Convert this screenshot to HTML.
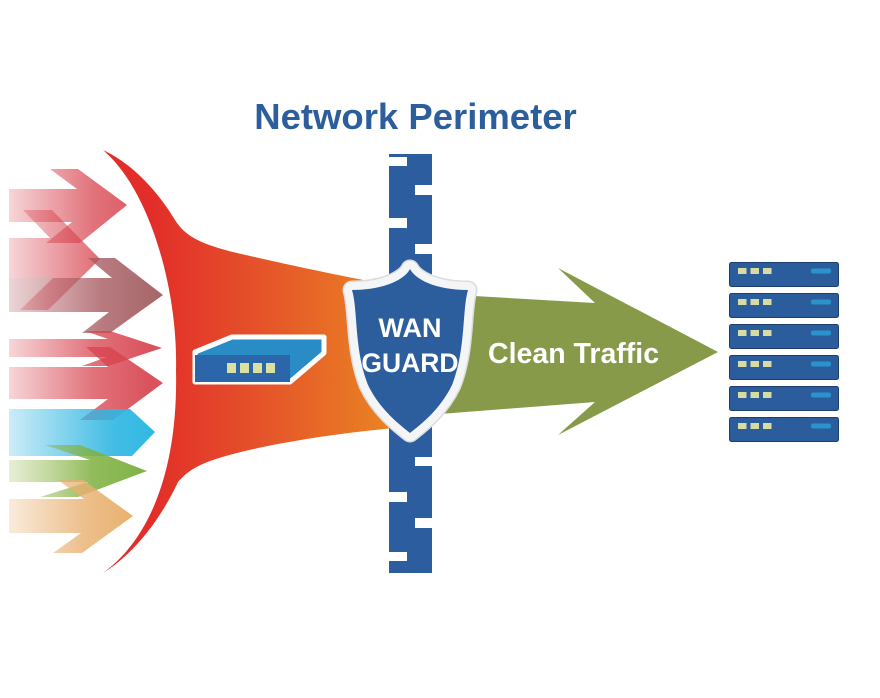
<!DOCTYPE html>
<html>
<head>
<meta charset="utf-8">
<style>
html,body{margin:0;padding:0;background:#ffffff;}
body{width:880px;height:698px;overflow:hidden;}
svg{display:block;}
</style>
</head>
<body>
<svg width="880" height="698" viewBox="0 0 880 698" xmlns="http://www.w3.org/2000/svg">
  <defs>
    <linearGradient id="funnel" gradientUnits="userSpaceOnUse" x1="150" y1="0" x2="395" y2="0">
      <stop offset="0" stop-color="#e22d29"/>
      <stop offset="0.45" stop-color="#e5532a"/>
      <stop offset="1" stop-color="#ea8522"/>
    </linearGradient>
    <linearGradient id="gRed" gradientUnits="userSpaceOnUse" x1="9" y1="0" x2="150" y2="0">
      <stop offset="0" stop-color="#d8434e" stop-opacity="0.22"/>
      <stop offset="0.6" stop-color="#d8434e" stop-opacity="0.75"/>
      <stop offset="1" stop-color="#d6434e" stop-opacity="0.92"/>
    </linearGradient>
    <linearGradient id="gBrown" gradientUnits="userSpaceOnUse" x1="9" y1="0" x2="163" y2="0">
      <stop offset="0" stop-color="#b0565e" stop-opacity="0.25"/>
      <stop offset="0.6" stop-color="#a65a60" stop-opacity="0.8"/>
      <stop offset="1" stop-color="#a05c60" stop-opacity="0.95"/>
    </linearGradient>
    <linearGradient id="gBlue" gradientUnits="userSpaceOnUse" x1="9" y1="0" x2="155" y2="0">
      <stop offset="0" stop-color="#30b6e2" stop-opacity="0.25"/>
      <stop offset="0.7" stop-color="#30b6e2" stop-opacity="0.9"/>
      <stop offset="1" stop-color="#2fb8e2" stop-opacity="1"/>
    </linearGradient>
    <linearGradient id="gGreen" gradientUnits="userSpaceOnUse" x1="9" y1="0" x2="147" y2="0">
      <stop offset="0" stop-color="#9cbc58" stop-opacity="0.25"/>
      <stop offset="0.6" stop-color="#7fb040" stop-opacity="0.85"/>
      <stop offset="1" stop-color="#78ae3c" stop-opacity="0.95"/>
    </linearGradient>
    <linearGradient id="gOrange" gradientUnits="userSpaceOnUse" x1="9" y1="0" x2="133" y2="0">
      <stop offset="0" stop-color="#e8b070" stop-opacity="0.25"/>
      <stop offset="0.6" stop-color="#e8b070" stop-opacity="0.8"/>
      <stop offset="1" stop-color="#e8ac66" stop-opacity="0.95"/>
    </linearGradient>
  </defs>

  <!-- Title -->
  <text x="415.5" y="129" text-anchor="middle" font-family="'Liberation Sans', Arial, sans-serif" font-weight="bold" font-size="36.5" fill="#2b5e9b">Network Perimeter</text>

  <!-- Funnel -->
  <path d="M103,150 C135,165 160,195 175,220 C185,236 200,244 237,253 C280,263 340,276 395,286 L395,428 C340,433 280,442 237,453 C205,461 190,468 178,482 C165,510 140,550 103,573 C155,535 178,460 176,370 C178,290 150,190 103,150 Z" fill="url(#funnel)"/>

  <!-- Incoming arrows -->
  <polygon points="9,189 77,189 50,169 78,169 127,205 80,243 46,243 72,222 9,222" fill="url(#gRed)"/>
  <polygon points="9,238 50,238 23,210 52,210 100,259 48,310 20,310 53,278 9,278" fill="url(#gRed)"/>
  <polygon points="9,278 112,278 88,258 115,258 163,295 110,333 82,333 109,312 9,312" fill="url(#gBrown)"/>
  <polygon points="9,339 108,339 85,331 110,331 162,348 108,366 82,366 107,357 9,357" fill="url(#gRed)"/>
  <polygon points="9,367 108,367 86,347 110,347 163,383 113,420 80,420 108,399 9,399" fill="url(#gRed)"/>
  <polygon points="9,409 130,409 155,432 132,456 9,456" fill="url(#gBlue)"/>
  <polygon points="9,460 90,460 45,445 80,445 147,471 78,497 40,497 88,482 9,482" fill="url(#gGreen)"/>
  <polygon points="9,499 84,499 58,480 83,480 133,516 82,553 53,553 81,533 9,533" fill="url(#gOrange)"/>

  <!-- Switch device -->
  <polygon points="195,352 232,337 324,337 324,353 290,382 195,382" fill="#2a8cc4" stroke="#ffffff" stroke-width="5" stroke-linejoin="round"/>
  <rect x="195" y="355" width="95" height="27" fill="#2b66ab"/>
  <rect x="227" y="363" width="9" height="10" fill="#d9e0a0"/>
  <rect x="240" y="363" width="9" height="10" fill="#d9e0a0"/>
  <rect x="253" y="363" width="9" height="10" fill="#d9e0a0"/>
  <rect x="266" y="363" width="9" height="10" fill="#d9e0a0"/>

  <!-- Green clean traffic arrow -->
  <polygon points="440,294 595,303 558,268 718,352 558,435 595,402 440,414" fill="#879a49"/>
  <text x="488" y="363" font-family="'Liberation Sans', Arial, sans-serif" font-weight="bold" font-size="28.5" fill="#ffffff">Clean Traffic</text>

  <!-- Wall -->
  <rect x="389" y="154" width="43" height="419" fill="#2c5d9e"/>
  <rect x="389" y="157" width="18" height="9" fill="#ffffff"/>
  <rect x="389" y="218" width="18" height="10" fill="#ffffff"/>
  <rect x="389" y="492" width="18" height="10" fill="#ffffff"/>
  <rect x="389" y="552" width="18" height="9" fill="#ffffff"/>
  <rect x="415" y="185" width="17" height="10" fill="#ffffff"/>
  <rect x="415" y="244" width="17" height="10" fill="#ffffff"/>
  <rect x="415" y="457" width="17" height="9" fill="#ffffff"/>
  <rect x="415" y="518" width="17" height="10" fill="#ffffff"/>

  <!-- Shield -->
  <path d="M410,269 C405,279 385,290 352,290 C358,310 354,350 368,385 C380,410 400,425 410,433 C420,425 440,410 452,385 C466,350 462,310 468,290 C435,290 415,279 410,269 Z" fill="none" stroke="#dcdcdc" stroke-width="19" stroke-linejoin="round"/>
  <path d="M410,269 C405,279 385,290 352,290 C358,310 354,350 368,385 C380,410 400,425 410,433 C420,425 440,410 452,385 C466,350 462,310 468,290 C435,290 415,279 410,269 Z" fill="#2c5e9e" stroke="#f4f5f7" stroke-width="16" stroke-linejoin="round"/>
  <path d="M410,269 C405,279 385,290 352,290 C358,310 354,350 368,385 C380,410 400,425 410,433 C420,425 440,410 452,385 C466,350 462,310 468,290 C435,290 415,279 410,269 Z" fill="#2c5e9e"/>
  <text x="410" y="337" text-anchor="middle" font-family="'Liberation Sans', Arial, sans-serif" font-weight="bold" font-size="27" fill="#ffffff">WAN</text>
  <text x="410" y="372" text-anchor="middle" font-family="'Liberation Sans', Arial, sans-serif" font-weight="bold" font-size="26.5" fill="#ffffff">GUARD</text>

  <!-- Servers -->
  <g>
    <rect x="729.5" y="262.5" width="109" height="24" rx="2" fill="#2b5c9c" stroke="#1d3f70" stroke-width="1"/>
    <rect x="738" y="268" width="8.5" height="6" fill="#d8dca0"/><rect x="750.5" y="268" width="8.5" height="6" fill="#d8dca0"/><rect x="763" y="268" width="8.5" height="6" fill="#d8dca0"/>
    <rect x="811" y="268.5" width="20" height="5" rx="2" fill="#2a93cc"/>

    <rect x="729.5" y="293.5" width="109" height="24" rx="2" fill="#2b5c9c" stroke="#1d3f70" stroke-width="1"/>
    <rect x="738" y="299" width="8.5" height="6" fill="#d8dca0"/><rect x="750.5" y="299" width="8.5" height="6" fill="#d8dca0"/><rect x="763" y="299" width="8.5" height="6" fill="#d8dca0"/>
    <rect x="811" y="299.5" width="20" height="5" rx="2" fill="#2a93cc"/>

    <rect x="729.5" y="324.5" width="109" height="24" rx="2" fill="#2b5c9c" stroke="#1d3f70" stroke-width="1"/>
    <rect x="738" y="330" width="8.5" height="6" fill="#d8dca0"/><rect x="750.5" y="330" width="8.5" height="6" fill="#d8dca0"/><rect x="763" y="330" width="8.5" height="6" fill="#d8dca0"/>
    <rect x="811" y="330.5" width="20" height="5" rx="2" fill="#2a93cc"/>

    <rect x="729.5" y="355.5" width="109" height="24" rx="2" fill="#2b5c9c" stroke="#1d3f70" stroke-width="1"/>
    <rect x="738" y="361" width="8.5" height="6" fill="#d8dca0"/><rect x="750.5" y="361" width="8.5" height="6" fill="#d8dca0"/><rect x="763" y="361" width="8.5" height="6" fill="#d8dca0"/>
    <rect x="811" y="361.5" width="20" height="5" rx="2" fill="#2a93cc"/>

    <rect x="729.5" y="386.5" width="109" height="24" rx="2" fill="#2b5c9c" stroke="#1d3f70" stroke-width="1"/>
    <rect x="738" y="392" width="8.5" height="6" fill="#d8dca0"/><rect x="750.5" y="392" width="8.5" height="6" fill="#d8dca0"/><rect x="763" y="392" width="8.5" height="6" fill="#d8dca0"/>
    <rect x="811" y="392.5" width="20" height="5" rx="2" fill="#2a93cc"/>

    <rect x="729.5" y="417.5" width="109" height="24" rx="2" fill="#2b5c9c" stroke="#1d3f70" stroke-width="1"/>
    <rect x="738" y="423" width="8.5" height="6" fill="#d8dca0"/><rect x="750.5" y="423" width="8.5" height="6" fill="#d8dca0"/><rect x="763" y="423" width="8.5" height="6" fill="#d8dca0"/>
    <rect x="811" y="423.5" width="20" height="5" rx="2" fill="#2a93cc"/>
  </g>
</svg>
</body>
</html>
